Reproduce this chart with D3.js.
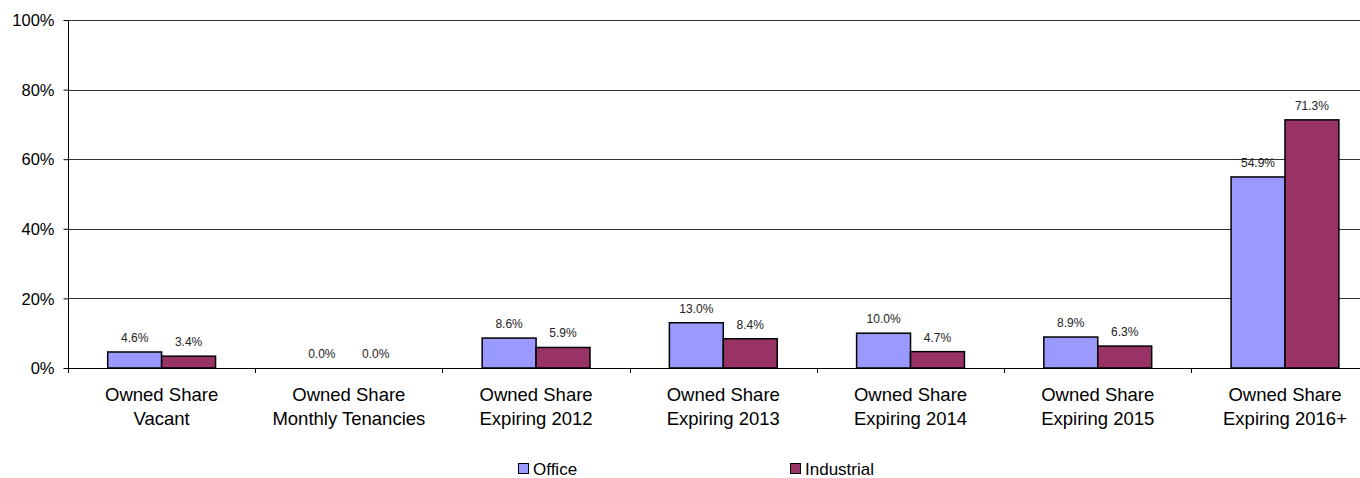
<!DOCTYPE html>
<html><head><meta charset="utf-8">
<script src="https://cdn.jsdelivr.net/npm/d3@7"></script>
<style>
html,body{margin:0;padding:0;background:#fff;}
svg{display:block;font-family:Arial,"Liberation Sans",sans-serif;}
</style></head>
<body>
<svg id="chart" width="1360" height="478"></svg>
<script>
const categories = [
  ["Owned Share","Vacant"],
  ["Owned Share","Monthly Tenancies"],
  ["Owned Share","Expiring 2012"],
  ["Owned Share","Expiring 2013"],
  ["Owned Share","Expiring 2014"],
  ["Owned Share","Expiring 2015"],
  ["Owned Share","Expiring 2016+"]
];
const office = [4.6, 0.0, 8.6, 13.0, 10.0, 8.9, 54.9];
const industrial = [3.4, 0.0, 5.9, 8.4, 4.7, 6.3, 71.3];
const seriesNames = ["Office", "Industrial"];
const yTicks = [0, 20, 40, 60, 80, 100];

(function () {
const colors = ["#9999FF", "#993366"];
const svg = d3.select("#chart");
const mLeft = 68, mRight = 1378.6, mTop = 20, mBottom = 368;

const x = d3.scaleBand().domain(d3.range(categories.length)).range([mLeft, mRight]).padding(0);
const y = d3.scaleLinear().domain([0, 100]).range([mBottom, mTop]);
const step = x.step();
const barW = step * 0.288;

// gridlines
svg.append("g").selectAll("line").data(yTicks.filter(d => d > 0)).join("line")
  .attr("x1", mLeft).attr("x2", mRight)
  .attr("y1", d => Math.round(y(d)) + 0.5).attr("y2", d => Math.round(y(d)) + 0.5)
  .attr("stroke", "#333").attr("stroke-width", 1);

// y axis
const yAxis = d3.axisLeft(y).tickValues(yTicks).tickFormat(d => d + "%").tickSize(5).tickPadding(9);
const gy = svg.append("g").attr("transform", `translate(${mLeft + 0.5},0)`).call(yAxis);
gy.select(".domain").attr("d", `M0,${mTop}V${mBottom + 5}`).attr("stroke", "#000");
gy.selectAll(".tick line").attr("stroke", "#000");
gy.selectAll(".tick text").attr("font-size", "16.5px").attr("fill", "#000")
  .attr("font-family", "Arial, 'Liberation Sans', sans-serif").attr("dy", "0.35em");

// bars
const series = [office, industrial];
series.forEach((vals, si) => {
  const g = svg.append("g");
  g.selectAll("rect").data(vals).join("rect")
    .attr("x", (d, i) => x(i) + step / 2 - barW + si * barW)
    .attr("y", d => y(d))
    .attr("width", barW)
    .attr("height", d => Math.max(0, y(0) - y(d)))
    .attr("fill", colors[si])
    .attr("stroke", "#000").attr("stroke-width", 1.5);
  g.selectAll("text").data(vals).join("text")
    .attr("x", (d, i) => x(i) + step / 2 - barW / 2 + si * barW)
    .attr("y", d => y(d) - 10)
    .attr("text-anchor", "middle")
    .attr("font-size", "12px").attr("fill", "#222")
    .text(d => d.toFixed(1) + "%");
});

// x axis
svg.append("line").attr("x1", mLeft).attr("x2", mRight)
  .attr("y1", mBottom + 0.5).attr("y2", mBottom + 0.5).attr("stroke", "#000");
svg.append("g").selectAll("line").data(d3.range(1, categories.length + 1)).join("line")
  .attr("x1", i => Math.round(mLeft + i * step) + 0.5)
  .attr("x2", i => Math.round(mLeft + i * step) + 0.5)
  .attr("y1", mBottom).attr("y2", mBottom + 5).attr("stroke", "#000");

// category labels
const cl = svg.append("g").selectAll("text").data(categories).join("text")
  .attr("text-anchor", "middle").attr("font-size", "18.5px").attr("fill", "#000");
cl.each(function(d, i) {
  const t = d3.select(this);
  d.forEach((line, li) => {
    t.append("tspan").attr("x", x(i) + step / 2).attr("y", 400.5 + li * 24.5).text(line);
  });
});

// legend
const legendX = [518, 790];
seriesNames.forEach((name, si) => {
  const g = svg.append("g");
  g.append("rect").attr("x", legendX[si] + 0.5).attr("y", 463.5).attr("width", 10).attr("height", 10)
    .attr("fill", colors[si]).attr("stroke", "#000").attr("stroke-width", 1);
  g.append("text").attr("x", legendX[si] + 15).attr("y", 475)
    .attr("font-size", "17px").attr("fill", "#000").text(name);
});
})();
</script>
</body></html>
